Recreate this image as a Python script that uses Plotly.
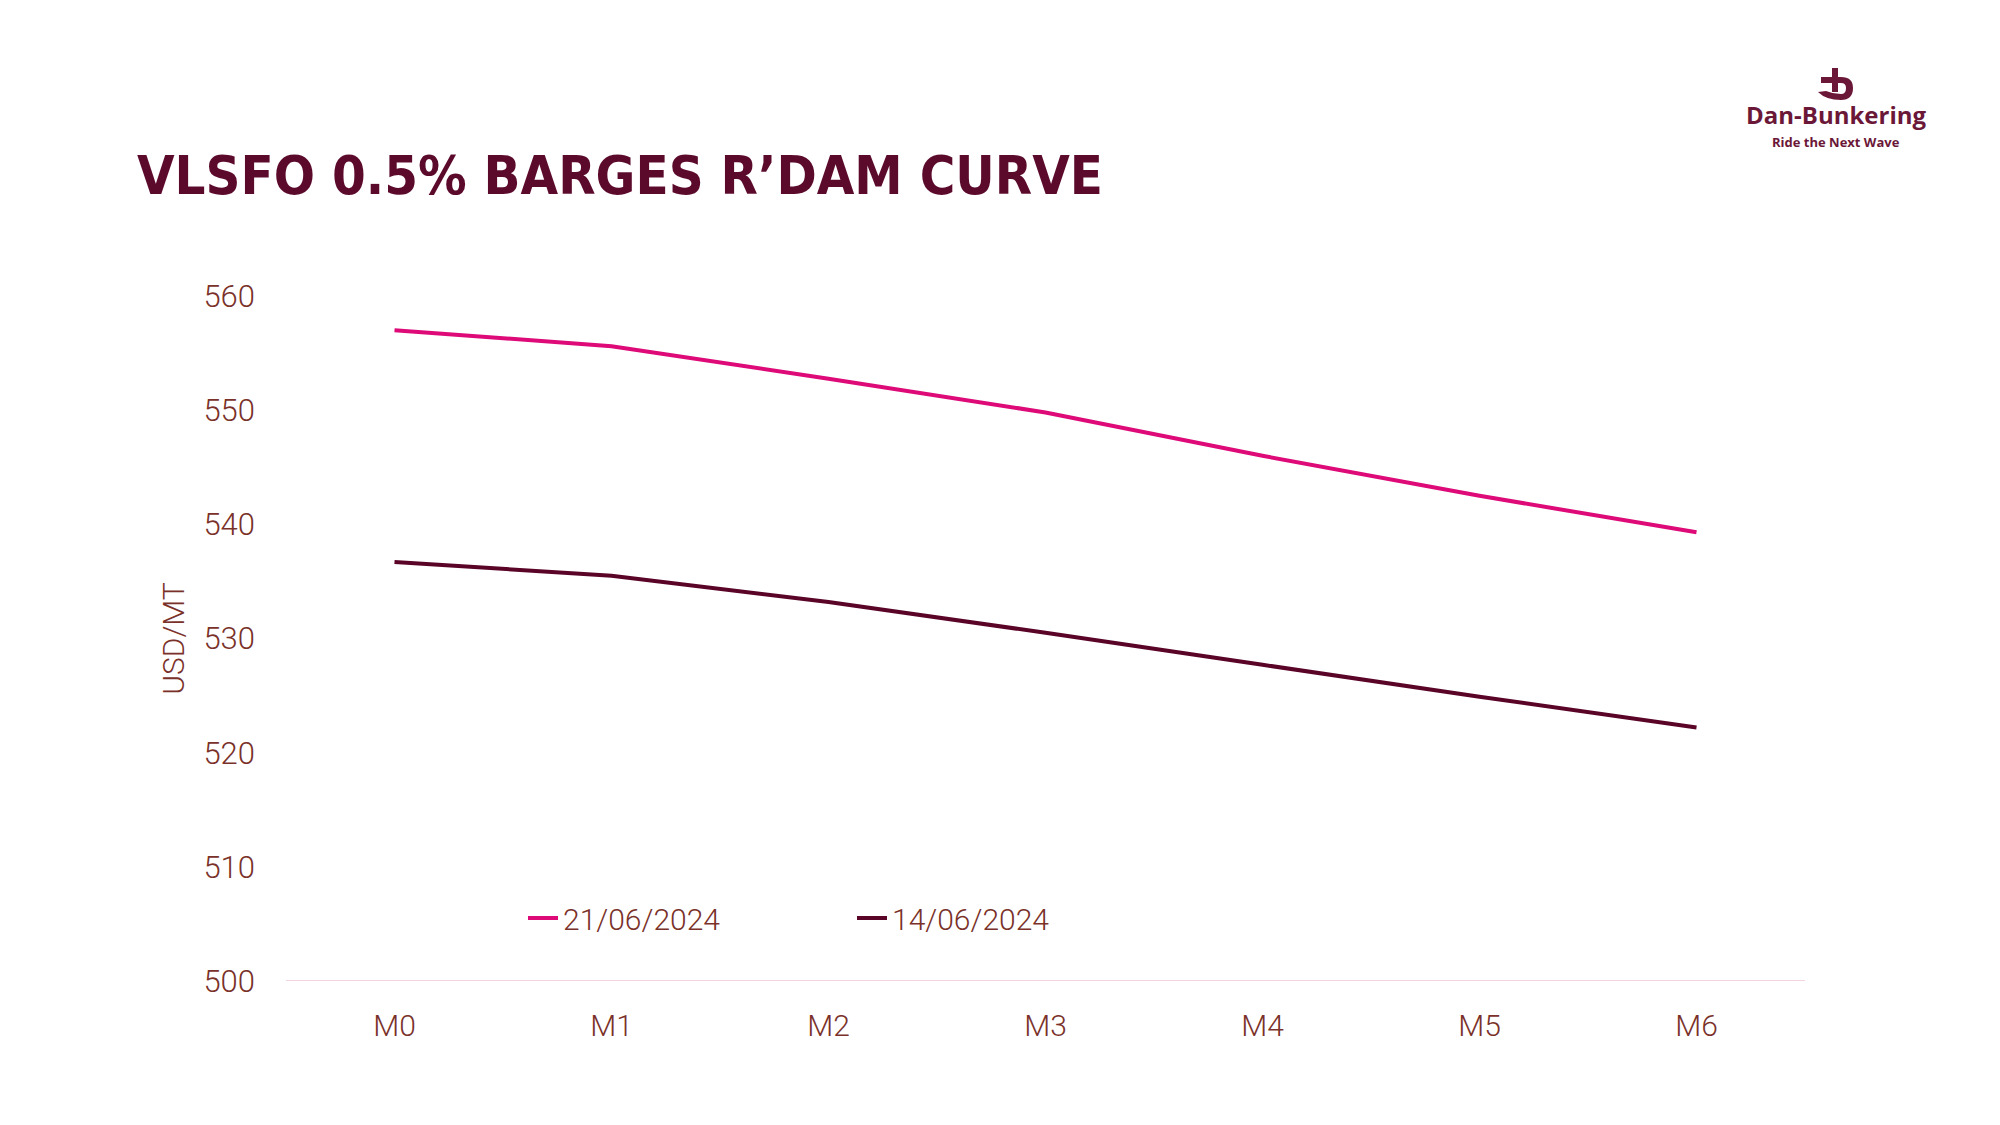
import plotly.graph_objects as go

months = ["M0", "M1", "M2", "M3", "M4", "M5", "M6"]
series_names = ["21/06/2024", "14/06/2024"]
curve_2106 = [557.0, 555.6, 552.75, 549.8, 546.0, 542.5, 539.3]
curve_1406 = [536.7, 535.5, 533.2, 530.5, 527.7, 524.9, 522.2]
y_ticks = [500, 510, 520, 530, 540, 550, 560]

W, H = 2000, 1125
L, R, T, B = 286, 1805, 296, 981

TICK_COLOR = "#7A3129"
TITLE_COLOR = "#5C0A2C"
PINK = "#DD0A78"
DARK = "#5A0428"
LOGO = "#6B1738"

fig = go.Figure()
fig.add_trace(go.Scatter(x=months, y=curve_2106, name=series_names[0], mode="lines",
                         line=dict(color=PINK, width=4)))
fig.add_trace(go.Scatter(x=months, y=curve_1406, name=series_names[1], mode="lines",
                         line=dict(color=DARK, width=4)))

def px_x(px):
    return (px - L) / (R - L)

def px_y(py):
    return (B - py) / (B - T)

shapes = []
# logo icon: stem, crossbar, ring
shapes.append(dict(type="rect", xref="paper", yref="paper",
                   x0=px_x(1832), x1=px_x(1838), y0=px_y(92), y1=px_y(68),
                   fillcolor=LOGO, line=dict(width=0)))
shapes.append(dict(type="rect", xref="paper", yref="paper",
                   x0=px_x(1821), x1=px_x(1838), y0=px_y(83), y1=px_y(77),
                   fillcolor=LOGO, line=dict(width=0)))
shapes.append(dict(type="path", xref="paper", yref="paper",
                   path=("M {a},{b} L {c},{b} Q {d},{b} {d},{e} Q {d},{f} {c},{f} "
                         "Q {g},{f} {h},{i} L {j},{k} Q {l},{m} {c},{m} Q {n},{m} {n},{e} "
                         "Q {n},{o} {c},{o} L {a},{o} Z").format(
                       a=px_x(1834), b=px_y(77), c=px_x(1841), d=px_x(1853), e=px_y(88),
                       f=px_y(100), g=px_x(1826), h=px_x(1818), i=px_y(92),
                       j=px_x(1826), k=px_y(91), l=px_x(1833), m=px_y(94),
                       n=px_x(1846), o=px_y(83)),
                   fillcolor=LOGO, line=dict(width=0)))

fig.update_layout(
    width=W, height=H,
    margin=dict(l=L, r=W - R, t=T, b=H - B, pad=0),
    paper_bgcolor="white", plot_bgcolor="white",
    font=dict(family="Roboto, DejaVu Sans", color=TICK_COLOR, size=30, weight=300),
    title=dict(text="VLSFO 0.5% BARGES R’DAM CURVE", xref="container", yref="container",
               x=137 / W, xanchor="left",
               y=1 - 175 / H, yanchor="middle",
               font=dict(family="DejaVu Sans Condensed, Liberation Sans Narrow", size=54,
                         color=TITLE_COLOR, weight="bold")),
    xaxis=dict(type="category", range=[-0.5, 6.5], showgrid=False, zeroline=False,
               showline=False, ticks="", ticklabelstandoff=24,
               tickfont=dict(size=30, color=TICK_COLOR, weight=300)),
    yaxis=dict(range=[500, 560], tickvals=y_ticks, showgrid=False, zeroline=False,
               showline=False, ticks="", ticklabelstandoff=30,
               tickfont=dict(size=31, color=TICK_COLOR, weight=300),
               title=dict(text="USD/MT", standoff=9,
                          font=dict(size=30, color=TICK_COLOR, weight=300))),
    legend=dict(orientation="h", x=px_x(523), xanchor="left", y=px_y(918), yanchor="middle",
                bgcolor="rgba(0,0,0,0)", font=dict(size=30, color=TICK_COLOR, weight=300),
                entrywidth=284, entrywidthmode="pixels", itemwidth=30),
    shapes=shapes + [dict(type="line", xref="paper", yref="y", x0=0, x1=1, y0=500, y1=500,
                          line=dict(color="#F5D3DE", width=2), layer="below")],
    annotations=[
        dict(text="<b>Dan-Bunkering</b>", xref="paper", yref="paper",
             x=px_x(1836), y=px_y(114), xanchor="center", yanchor="middle", showarrow=False,
             font=dict(family="Open Sans", size=24, color=LOGO)),
        dict(text="<b>Ride the Next Wave</b>", xref="paper", yref="paper",
             x=px_x(1836), y=px_y(142), xanchor="center", yanchor="middle", showarrow=False,
             font=dict(family="Open Sans", size=13, color=LOGO)),
    ],
)

fig.write_html("out.html", config={"displayModeBar": False},
               post_script="document.body.style.margin='0px';")
